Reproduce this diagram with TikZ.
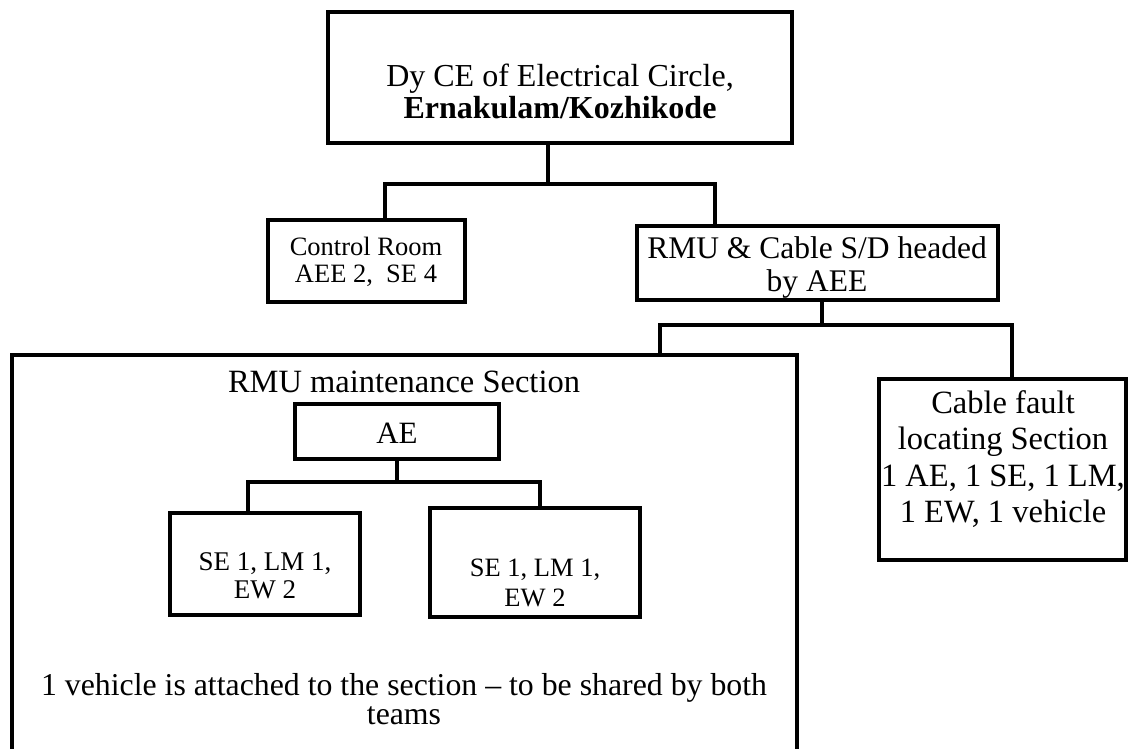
\documentclass[tikz,border=0pt]{standalone}
\usepackage{fontspec}
\setmainfont{Liberation Serif}
\usetikzlibrary{fit}
\newcommand{\fsz}[2]{\fontsize{#1}{#2}\selectfont}
\begin{document}
\begin{tikzpicture}[x=1pt,y=-1pt,
  box/.style={draw, line width=4pt, inner sep=0pt},
  conn/.style={draw, line width=3.5pt, line join=miter},
  txt/.style={align=center, inner sep=0pt}]
\useasboundingbox[fill=white] (0,0) rectangle (1129,749);

% top
\node[box, fit={(328,12) (792,143)}] (top) {};
\node[txt, font={\fsz{32}{32}}] (toptxt) at (560,91) {Dy CE of Electrical Circle,\\\textbf{Ernakulam/Kozhikode}};

% level 2
\node[box, fit={(268,220) (465,302)}] (cr) {};
\node[txt, font={\fsz{26.5}{27}}] (crtxt) at (366,262) {Control Room\\AEE 2,\ \ SE 4};

\node[box, fit={(637,226) (998,300)}] (rmu) {};
\node[txt, font={\fsz{31.5}{33}}] (rmutxt) at (817,267) {RMU \& Cable S/D headed\\by AEE};

\coordinate (j1) at (548,184);
\coordinate (b1l) at (385,184);
\coordinate (b1r) at (715,184);
\draw[conn] (top.south -| j1) -- (j1);
\draw[conn] (b1l |- cr.north) -- (b1l) -- (b1r) -- (b1r |- rmu.north);

% level 3
\node[box, fit={(879,379) (1126,560)}] (cab) {};
\node[txt, font={\fsz{32.5}{36.5}}] (cabtxt) at (1003,459) {Cable fault\\locating Section\\1 AE, 1 SE, 1 LM,\\1 EW, 1 vehicle};

\coordinate (secTL) at (12,355);
\coordinate (secTR) at (797,355);
\draw[line width=3.5pt] (12,749) -- (secTL) -- (secTR) -- (797,749);

\coordinate (j2) at (822,325);
\coordinate (b2l) at (660,325);
\coordinate (b2r) at (1012,325);
\draw[conn] (rmu.south -| j2) -- (j2);
\draw[conn] (b2l |- secTL) -- (b2l) -- (b2r) -- (b2r |- cab.north);

% inside section
\node[txt, font={\fsz{32.5}{34}}] (sectitle) at (404,382) {RMU maintenance Section};
\node[box, fit={(295,404) (499,459)}] (ae) {};
\node[txt, font={\fsz{31}{34}}] (aetxt) at (397,433) {AE};

\node[box, fit={(170,513) (360,615)}] (t1) {};
\node[txt, font={\fsz{27}{28}}] (t1txt) at (265,576) {SE 1, LM 1,\\EW 2};
\node[box, fit={(430,508) (640,617)}] (t2) {};
\node[txt, font={\fsz{26.5}{30}}] (t2txt) at (535,583) {SE 1, LM 1,\\EW 2};

\coordinate (j3) at (397,482);
\coordinate (b3l) at (248,482);
\coordinate (b3r) at (540,482);
\draw[conn] (ae.south -| j3) -- (j3);
\draw[conn] (b3l |- t1.north) -- (b3l) -- (b3r) -- (b3r |- t2.north);

\node[txt, font={\fsz{31.8}{29}}] (note) at (404,699) {1 vehicle is attached to the section -- to be shared by both\\teams};
\end{tikzpicture}
\end{document}
